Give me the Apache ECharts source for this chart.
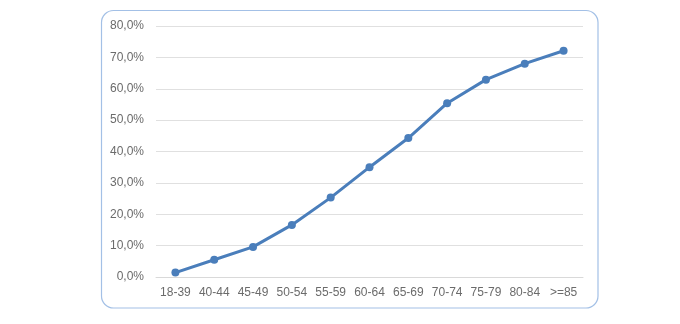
<!DOCTYPE html>
<html>
<head>
<meta charset="utf-8">
<script src="https://cdn.jsdelivr.net/npm/echarts@6/dist/echarts.min.js"></script>
<style>html,body{margin:0;padding:0;background:#fff}#c{width:680px;height:324px}</style>
</head>
<body>
<div id="c"></div>
<script>
var categories = ['18-39','40-44','45-49','50-54','55-59','60-64','65-69','70-74','75-79','80-84','>=85'];
var values = [1.4, 5.5, 9.6, 16.6, 25.3, 35.0, 44.3, 55.4, 62.9, 68.0, 72.1];
var yTicks = [0, 10, 20, 30, 40, 50, 60, 70, 80];

var chart = echarts.init(document.getElementById('c'), null, {renderer: 'canvas'});
chart.setOption({
  animation: false,
  backgroundColor: '#fff',
  graphic: [{
    type: 'rect',
    shape: {x: 101.5, y: 10.5, width: 496.5, height: 297.5, r: 12},
    style: {fill: 'none', stroke: '#a3c0e6', lineWidth: 1.2},
    silent: true, z: -1
  }],
  grid: {left: 156, right: 97, top: 26, bottom: 47},
  xAxis: {
    type: 'category',
    data: categories,
    boundaryGap: true,
    axisLine: {show: true, lineStyle: {color: '#d9d9d9', width: 1}},
    axisTick: {show: false},
    axisLabel: {color: '#6b6b6b', fontFamily: 'Liberation Sans, Arial', fontSize: 12, margin: 10, interval: 0}
  },
  yAxis: {
    type: 'value',
    min: yTicks[0], max: yTicks[yTicks.length - 1], interval: 10,
    axisLine: {show: false},
    axisTick: {show: false},
    splitLine: {lineStyle: {color: '#e0e0e0', width: 1}},
    axisLabel: {color: '#6b6b6b', fontFamily: 'Liberation Sans, Arial', fontSize: 12, margin: 12,
      formatter: function (v) { return v.toFixed(1).replace('.', ',') + '%'; }}
  },
  series: [{
    type: 'line',
    data: values,
    symbol: 'circle',
    symbolSize: 8,
    lineStyle: {color: '#4a7ebb', width: 3},
    itemStyle: {color: '#4a7ebb'}
  }]
});
</script>
</body>
</html>
